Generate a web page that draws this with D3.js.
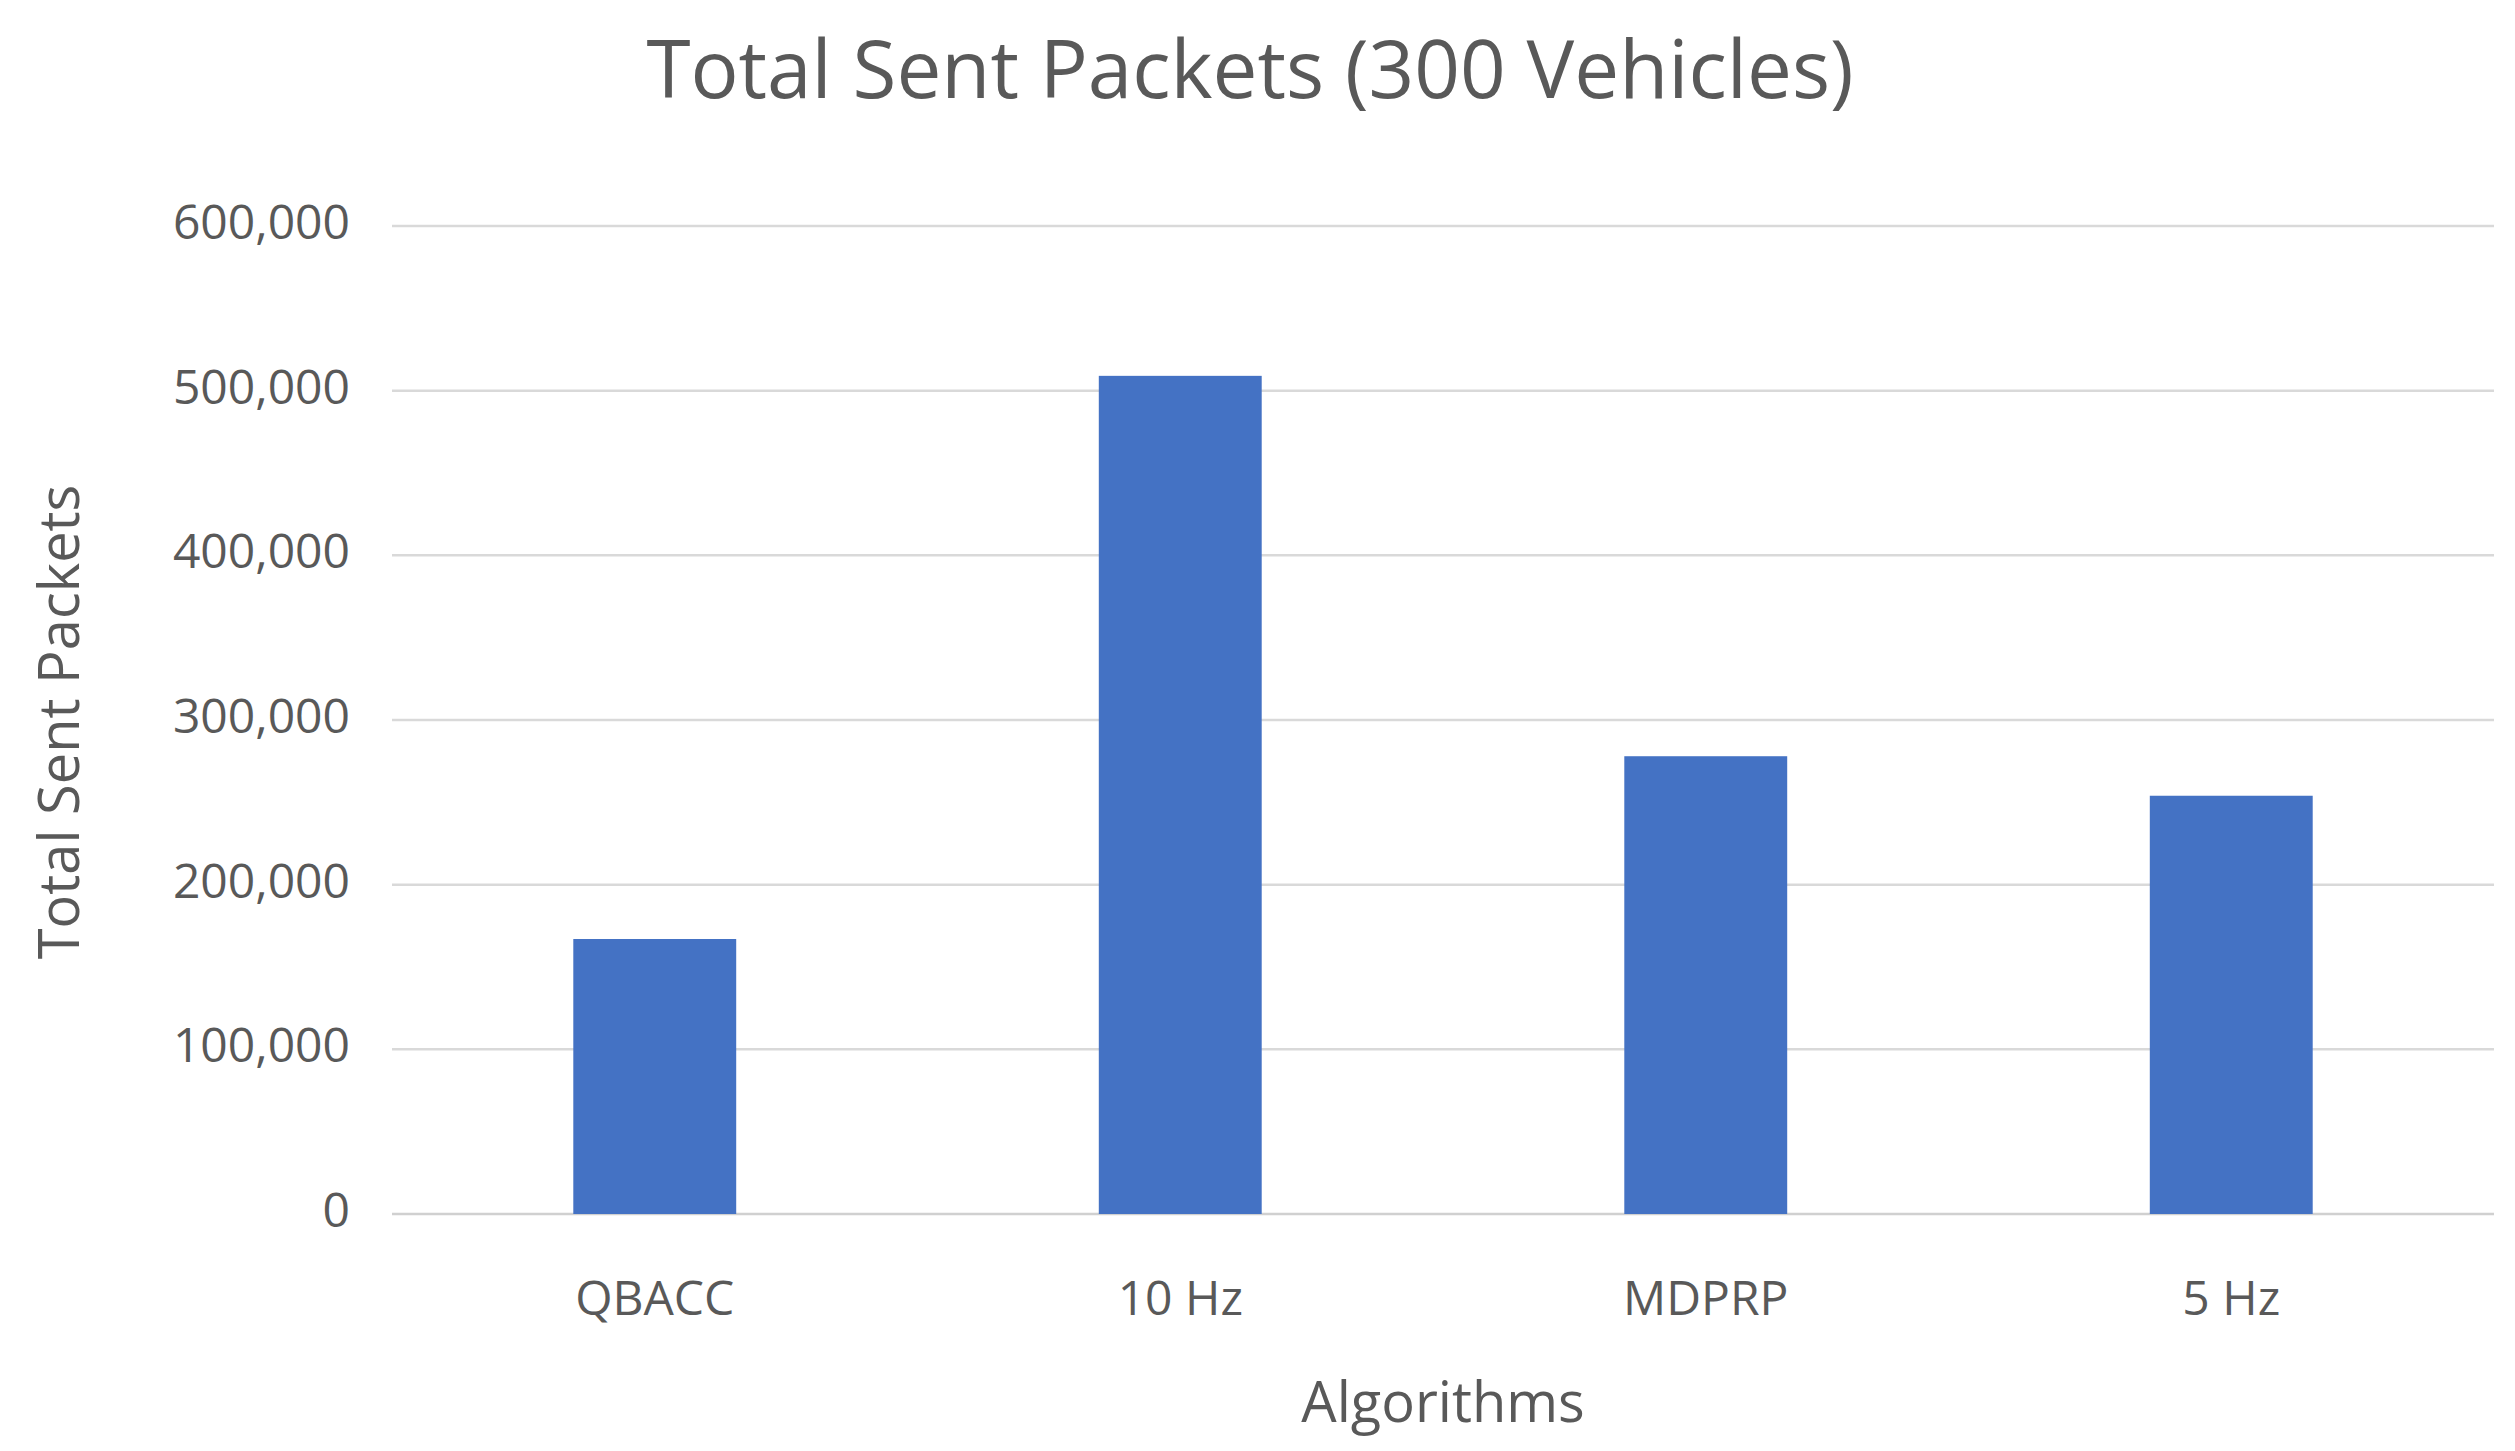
<!DOCTYPE html>
<html>
<head>
<meta charset="utf-8">
<script src="https://cdn.jsdelivr.net/npm/d3@7"></script>
<style>
  body { margin: 0; background: #fff; }
  text { font-family: "Open Sans", "Noto Sans", sans-serif; }
</style>
</head>
<body>
<div id="chart"></div>
<script>
const categories = ["QBACC", "10 Hz", "MDPRP", "5 Hz"];
const sentPackets = [167000, 509000, 278000, 254000];
const yTicks = [0, 100000, 200000, 300000, 400000, 500000, 600000];

const width = 2515, height = 1451;
const margin = { top: 226, right: 21, bottom: 237, left: 392 };

const svg = d3.select("#chart").append("svg")
  .attr("width", width)
  .attr("height", height);

const x = d3.scaleBand()
  .domain(categories)
  .range([margin.left, width - margin.right])
  .paddingInner(0.69)
  .paddingOuter(0.345);

const y = d3.scaleLinear()
  .domain([0, 600000])
  .range([height - margin.bottom, margin.top]);

// Gridlines
svg.append("g")
  .selectAll("line")
  .data(yTicks)
  .enter()
  .append("line")
  .attr("x1", margin.left)
  .attr("x2", width - margin.right)
  .attr("y1", d => y(d))
  .attr("y2", d => y(d))
  .attr("stroke", d => d === 0 ? "#d0d0d0" : "#d9d9d9")
  .attr("stroke-width", 2.5);

// Y tick labels
svg.append("g")
  .selectAll("text")
  .data(yTicks)
  .enter()
  .append("text")
  .attr("x", margin.left - 42)
  .attr("y", d => y(d))
  .attr("text-anchor", "end")
  .attr("dominant-baseline", "middle")
  .attr("fill", "#595959")
  .style("font-size", "48px")
  .text(d => d3.format(",")(d));

// Bars
svg.append("g")
  .selectAll("rect")
  .data(categories)
  .enter()
  .append("rect")
  .attr("x", d => x(d))
  .attr("width", x.bandwidth())
  .attr("y", (d, i) => y(sentPackets[i]))
  .attr("height", (d, i) => y(0) - y(sentPackets[i]))
  .attr("fill", "#4472c4");

// Category labels
svg.append("g")
  .selectAll("text")
  .data(categories)
  .enter()
  .append("text")
  .attr("x", d => x(d) + x.bandwidth() / 2)
  .attr("y", 1302)
  .attr("text-anchor", "middle")
  .attr("dominant-baseline", "middle")
  .attr("fill", "#595959")
  .style("font-size", "48px")
  .text(d => d);

// Title
svg.append("text")
  .attr("x", 1250)
  .attr("y", 77)
  .attr("text-anchor", "middle")
  .attr("dominant-baseline", "middle")
  .attr("fill", "#595959")
  .style("font-size", "80px")
  .text("Total Sent Packets (300 Vehicles)");

// Axis titles
svg.append("text")
  .attr("x", 1443)
  .attr("y", 1407)
  .attr("text-anchor", "middle")
  .attr("dominant-baseline", "middle")
  .attr("fill", "#595959")
  .style("font-size", "56px")
  .text("Algorithms");

svg.append("text")
  .attr("transform", "translate(64, 722) rotate(-90)")
  .attr("text-anchor", "middle")
  .attr("dominant-baseline", "middle")
  .attr("fill", "#595959")
  .style("font-size", "56px")
  .text("Total Sent Packets");
</script>
</body>
</html>
